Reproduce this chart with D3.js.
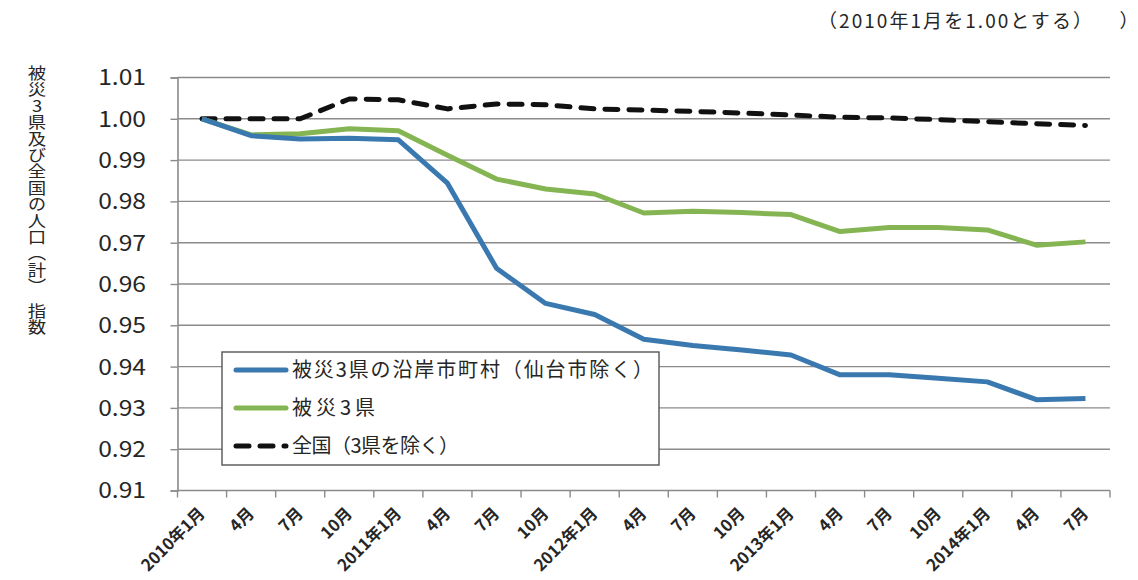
<!DOCTYPE html>
<html>
<head>
<meta charset="utf-8">
<script src="https://cdn.jsdelivr.net/npm/d3@7"></script>
<style>
  html, body { margin: 0; padding: 0; background: #fff; }
  svg { display: block; }
  text { font-family: "Noto Sans CJK JP", "Noto Sans", sans-serif; fill: #262626; }
</style>
</head>
<body>
<svg id="chart" width="1138" height="580"></svg>
<script>
// Quarterly categories, Jan 2010 – Jul 2014
const categories = [
  "2010年1月", "4月", "7月", "10月",
  "2011年1月", "4月", "7月", "10月",
  "2012年1月", "4月", "7月", "10月",
  "2013年1月", "4月", "7月", "10月",
  "2014年1月", "4月", "7月"
];

// Population index (Jan 2010 = 1.00)
const coastalValues = [
  1.0000, 0.9959, 0.9951, 0.9953, 0.9949, 0.9844, 0.9638, 0.9553, 0.9526, 0.9466,
  0.9451, 0.9440, 0.9428, 0.9380, 0.9380, 0.9372, 0.9363, 0.9320, 0.9323
];
const threePrefValues = [
  1.0000, 0.9961, 0.9964, 0.9976, 0.9971, 0.9912, 0.9854, 0.9830, 0.9818, 0.9772,
  0.9776, 0.9773, 0.9768, 0.9727, 0.9737, 0.9737, 0.9731, 0.9694, 0.9702
];
const nationalValues = [
  1.0000, 1.0000, 1.0000, 1.0048, 1.0046, 1.0024, 1.0036, 1.0034, 1.0024, 1.0021,
  1.0018, 1.0014, 1.0009, 1.0004, 1.0002, 0.9998, 0.9993, 0.9988, 0.9984
];

const yTicks = [1.01, 1.00, 0.99, 0.98, 0.97, 0.96, 0.95, 0.94, 0.93, 0.92, 0.91];

const seriesNames = ["被災3県の沿岸市町村（仙台市除く）", "被災3県", "全国（3県を除く）"];
const yTitle = "被災3県及び全国の人口（計）　指数";
const noteText = "（2010年1月を1.00とする）";

const svg = d3.select("#chart");

const plot = { left: 177.5, right: 1110, top: 77.5, bottom: 490.5 };

const x = d3.scaleBand()
  .domain(d3.range(categories.length))
  .range([plot.left, plot.right])
  .padding(0);
const y = d3.scaleLinear()
  .domain([0.91, 1.01])
  .range([plot.bottom, plot.top]);

const cx = i => x(i) + x.bandwidth() / 2;

const gridColor = "#8c8a8a";

// Horizontal gridlines
svg.append("g")
  .selectAll("line")
  .data(yTicks.filter(t => t > 0.91))
  .join("line")
  .attr("x1", plot.left).attr("x2", plot.right)
  .attr("y1", d => y(d)).attr("y2", d => y(d))
  .attr("stroke", gridColor)
  .attr("stroke-width", 1.4);

// Y axis: line and tick marks from d3.axisLeft, labels drawn slightly widened
const yAxis = svg.append("g")
  .attr("transform", `translate(${plot.left},0)`)
  .call(d3.axisLeft(y).tickValues(yTicks).tickFormat("").tickSize(7));
yAxis.select(".domain").attr("stroke", gridColor).attr("stroke-width", 1.6);
yAxis.selectAll(".tick line").attr("stroke", gridColor).attr("stroke-width", 1.4);
svg.append("g")
  .selectAll("text")
  .data(yTicks)
  .join("text")
  .attr("transform", d => `translate(146,${y(d)}) scale(1.12,1)`)
  .attr("text-anchor", "end")
  .attr("dy", "0.36em")
  .attr("font-size", 22)
  .text(d3.format(".2f"));

// X axis: ticks on band boundaries, labels at band centres
const xAxisG = svg.append("g").attr("transform", `translate(0,${plot.bottom})`);
xAxisG.append("line")
  .attr("x1", plot.left).attr("x2", plot.right)
  .attr("stroke", gridColor).attr("stroke-width", 1.6);
const boundaries = d3.range(categories.length + 1).map(i => i < categories.length ? x(i) : plot.right);
xAxisG.selectAll("line.tick")
  .data(boundaries)
  .join("line")
  .attr("class", "tick")
  .attr("x1", d => d).attr("x2", d => d)
  .attr("y1", 0).attr("y2", 7)
  .attr("stroke", gridColor).attr("stroke-width", 1.4);
xAxisG.selectAll("text")
  .data(categories)
  .join("text")
  .attr("transform", (d, i) => `translate(${cx(i) + 4},${24}) rotate(-45)`)
  .attr("text-anchor", "end")
  .attr("font-size", 16.5)
  .attr("font-weight", 700)
  .text(d => d);

// Series lines
const line = d3.line()
  .x((d, i) => cx(i))
  .y(d => y(d));

const series = [
  { name: seriesNames[2], values: nationalValues, color: "#111111", dash: "13,11", legendWidth: 167 },
  { name: seriesNames[1], values: threePrefValues, color: "#85b553", dash: null, legendWidth: 83 },
  { name: seriesNames[0], values: coastalValues, color: "#3a79b0", dash: null, legendWidth: 361 }
];

svg.append("g")
  .selectAll("path")
  .data(series)
  .join("path")
  .attr("d", d => line(d.values))
  .attr("fill", "none")
  .attr("stroke", d => d.color)
  .attr("stroke-width", 5)
  .attr("stroke-linejoin", "round")
  .attr("stroke-linecap", d => d.dash ? "round" : "butt")
  .attr("stroke-dasharray", d => d.dash);

// Legend
const legend = svg.append("g");
legend.append("rect")
  .attr("x", 222).attr("y", 352)
  .attr("width", 437).attr("height", 113)
  .attr("fill", "#fff")
  .attr("stroke", "#555")
  .attr("stroke-width", 1.4);

const legendItems = [series[2], series[1], series[0]];
const rows = legend.selectAll("g.item")
  .data(legendItems)
  .join("g")
  .attr("class", "item")
  .attr("transform", (d, i) => `translate(0,${370 + i * 38})`);
rows.append("line")
  .attr("x1", 236).attr("x2", 286)
  .attr("stroke", d => d.color)
  .attr("stroke-width", 5)
  .attr("stroke-linecap", "round")
  .attr("stroke-dasharray", d => d.dash);
rows.append("text")
  .attr("x", 292)
  .attr("dy", "0.36em")
  .attr("font-size", 20)
  .attr("textLength", d => d.legendWidth)
  .attr("lengthAdjust", "spacing")
  .text(d => d.name);

// Vertical y-axis title
svg.append("text")
  .attr("transform", "translate(37,65) scale(1.15,1)")
  .attr("x", 0).attr("y", 0)
  .attr("font-size", 16)
  .attr("letter-spacing", 0.4)
  .style("writing-mode", "vertical-rl")
  .style("text-orientation", "upright")
  .text(yTitle);

// Base-period note
svg.append("text")
  .attr("x", 818).attr("y", 21)
  .attr("dy", "0.36em")
  .attr("font-size", 19)
  .attr("textLength", 274)
  .attr("lengthAdjust", "spacing")
  .text(noteText);
svg.append("text")
  .attr("x", 1129).attr("y", 21)
  .attr("dy", "0.36em")
  .attr("text-anchor", "middle")
  .attr("font-size", 19)
  .text("）");
</script>
</body>
</html>
